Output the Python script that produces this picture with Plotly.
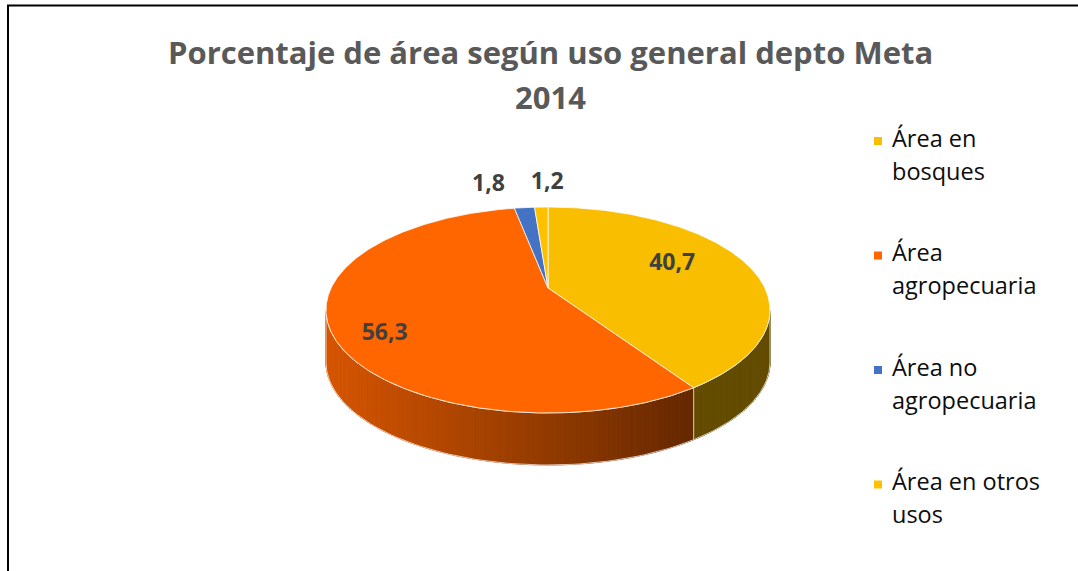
import numpy as np
import plotly.graph_objects as go

# ---- data ----
categories = ["Área en bosques", "Área agropecuaria", "Área no agropecuaria", "Área en otros usos"]
values = [40.7, 56.3, 1.8, 1.2]
value_labels = ["40,7", "56,3", "1,8", "1,2"]
title_lines = ["Porcentaje de área según uso general depto Meta", "2014"]

# ---- style ----
top_colors = ["#F9BE00", "#FF6600", "#4472C4", "#FFC000"]
W, H = 1078, 571
CX, CY, RX, RY, TILT, DEPTH = 548, 310, 222, 103, -0.214, 52
LABEL_R = [0.6, 0.75, 1.0, 1.0]
LABEL_NUDGE = [(4, -7), (-3, 17), (-36, -22), (6, -24)]
FONT = "Open Sans"


def proj(theta, r=1.0):
    u = r * np.sin(theta)
    v = -r * np.cos(theta)
    d = 1 + TILT * v
    x = CX + RX * u * np.sqrt(1 - TILT ** 2) / d
    y = CY + RY * (v + TILT) / d
    return x, y


def hex_rgb(h):
    h = h.lstrip("#")
    return [int(h[i:i + 2], 16) for i in (0, 2, 4)]


def shade(col, x):
    s = 0.84 - 0.44 * (x - (CX - RX)) / (690 - (CX - RX))
    s = max(0.40, min(0.84, s))
    r, g, b = hex_rgb(col)
    return "rgb(%d,%d,%d)" % (r * s, g * s, b * s)


total = sum(values)
edges = np.concatenate([[0], np.cumsum(values)]) / total * 2 * np.pi
th_r = np.arccos(TILT)
th_l = 2 * np.pi - th_r

fig = go.Figure()

# ---- side walls (gradient strips) ----
for i, col in enumerate(top_colors):
    a0, a1 = max(edges[i], th_r), min(edges[i + 1], th_l)
    if a1 <= a0:
        continue
    n = max(2, int(np.degrees(a1 - a0)))
    ts = np.linspace(a0, a1, n + 1)
    for k in range(n):
        t = np.linspace(ts[k], ts[k + 1], 3)
        xs, ys = proj(t)
        px = list(xs) + list(xs[::-1])
        py = list(ys) + list((ys + DEPTH)[::-1])
        c = shade(col, xs.mean())
        fig.add_trace(go.Scatter(x=px + [px[0]], y=py + [py[0]], mode="lines", fill="toself",
                                 fillcolor=c, line=dict(color=c, width=1),
                                 hoverinfo="skip", showlegend=False))
    t = np.linspace(a0, a1, 80)
    xs, ys = proj(t)
    px = list(xs) + list(xs[::-1])
    py = list(ys) + list((ys + DEPTH)[::-1])
    fig.add_trace(go.Scatter(x=px + [px[0]], y=py + [py[0]], mode="lines",
                             line=dict(color="rgba(255,255,255,0.7)", width=1),
                             hoverinfo="skip", showlegend=False))

# ---- top faces ----
cx0, cy0 = proj(0.0, 0.0)
for i, col in enumerate(top_colors):
    t = np.linspace(edges[i], edges[i + 1], max(4, int(np.degrees(edges[i + 1] - edges[i])) * 2))
    xs, ys = proj(t)
    px = [cx0] + list(xs) + [cx0]
    py = [cy0] + list(ys) + [cy0]
    fig.add_trace(go.Scatter(x=px, y=py, mode="lines", fill="toself", fillcolor=col,
                             line=dict(color="rgba(255,255,255,0.75)", width=1),
                             name=categories[i], hoverinfo="name", showlegend=False))

# ---- data labels ----
mids = (edges[:-1] + edges[1:]) / 2
lx, ly = [], []
for i, m in enumerate(mids):
    x, y = proj(m, LABEL_R[i])
    lx.append(x + LABEL_NUDGE[i][0])
    ly.append(y + LABEL_NUDGE[i][1])
fig.add_trace(go.Scatter(x=lx, y=ly, mode="text", text=value_labels,
                         textfont=dict(family=FONT, size=23, color="#404040", weight="bold"),
                         hoverinfo="skip", showlegend=False))


# ---- legend (custom) ----
def wrap(s, n=13):
    out, cur = [], ""
    for w in s.split():
        if cur and len(cur) + 1 + len(w) > n:
            out.append(cur)
            cur = w
        else:
            cur = (cur + " " + w).strip()
    out.append(cur)
    return out

LEG_X, LEG_Y0, LEG_STEP, LINE_H = 878, 141, 114.5, 33
for i, cat in enumerate(categories):
    y0 = LEG_Y0 + i * LEG_STEP
    fig.add_trace(go.Scatter(x=[LEG_X], y=[y0], mode="markers",
                             marker=dict(symbol="square", size=8, color=top_colors[i]),
                             hoverinfo="skip", showlegend=False))
    lines = wrap(cat)
    fig.add_trace(go.Scatter(x=[LEG_X + 14] * len(lines), y=[y0 + k * LINE_H for k in range(len(lines))],
                             mode="text", text=lines, textposition="middle right",
                             textfont=dict(family=FONT, size=23.5, color="#0d0d0d"),
                             hoverinfo="skip", showlegend=False))

# ---- title ----
for k, line in enumerate(title_lines):
    fig.add_annotation(x=550, y=52 + k * 45, xref="x", yref="y", text="<b>%s</b>" % line,
                       showarrow=False, font=dict(family=FONT, size=31, color="#595959"),
                       xanchor="center", yanchor="middle")

# ---- frame ----
fig.add_shape(type="line", xref="x", yref="y", x0=7, x1=W, y0=5.5, y1=5.5,
              line=dict(color="black", width=2))
fig.add_shape(type="line", xref="x", yref="y", x0=8, x1=8, y0=5, y1=H,
              line=dict(color="black", width=2))

fig.update_layout(
    width=W, height=H, margin=dict(l=0, r=0, t=0, b=0),
    paper_bgcolor="white", plot_bgcolor="white",
    xaxis=dict(range=[0, W], visible=False, fixedrange=True),
    yaxis=dict(range=[H, 0], visible=False, fixedrange=True),
    showlegend=False,
)

fig.write_html("out.html", config={"displayModeBar": False},
               post_script="document.body.style.margin='0';document.body.style.overflow='hidden';")
